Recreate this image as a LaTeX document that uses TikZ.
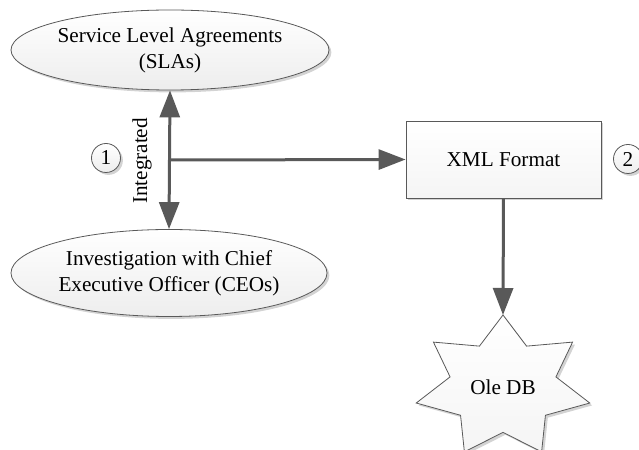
\documentclass[tikz,border=0pt]{standalone}
\usepackage{fontspec}
\setmainfont{Liberation Serif}
\usetikzlibrary{shapes.geometric, arrows.meta, shadows}

\begin{document}
\begin{tikzpicture}[x=0.5pt, y=0.5pt, font=\fontsize{10.6}{13}\selectfont,
    boxfill/.style={draw=gray!70!black, line width=0.4pt, top color=white, bottom color=gray!14,
        drop shadow={shadow xshift=1.2pt, shadow yshift=-1.2pt, opacity=0.35, fill=gray}},
    oval/.style={boxfill, ellipse, align=center, inner sep=0pt},
    numcirc/.style={boxfill, circle, minimum size=14.5pt, inner sep=0pt},
    link/.style={draw=black!65, line width=1.5pt, -{Triangle[length=13.5pt, width=10pt]}}]
    \useasboundingbox (0, 0) rectangle (639, 450);
    \node[oval, minimum width=157pt, minimum height=40pt] (sla) at (170, 400) {Service Level Agreements\\(SLAs)};
    \node[oval, minimum width=158pt, minimum height=43.5pt] (ceo) at (169, 177) {Investigation with Chief\\Executive Officer (CEOs)};
    \node[boxfill, rectangle, minimum width=97.5pt, minimum height=38.5pt, bottom color=gray!8] (xml) at (503.5, 290.5) {XML Format};
    \draw[boxfill, bottom color=gray!8] plot[samples at={0,...,13}]
        ({503 + 89*(1 - 0.39*mod(\x, 2))*cos(90 + \x*180/7)}, {63 + 72*(1 - 0.37*mod(\x, 2))*sin(90 + \x*180/7)}) -- cycle;
    \coordinate (dbtop) at (503, 135);
    \node (db) at (503, 63) {Ole DB};
    \node[numcirc] (one) at (106, 292) {1};
    \node[numcirc] (two) at (628, 291) {2};
    \coordinate (junc) at (169, 290);
    \node[rotate=90] (intg) at (142, 289) {Integrated};
    \draw[link, {Triangle[length=13.5pt, width=10pt]}-{Triangle[length=13.5pt, width=10pt]}] (sla.south) -- (ceo.north);
    \draw[link] (junc) -- (xml.west);
    \draw[link] (xml.south) -- (dbtop);
\end{tikzpicture}
\end{document}
